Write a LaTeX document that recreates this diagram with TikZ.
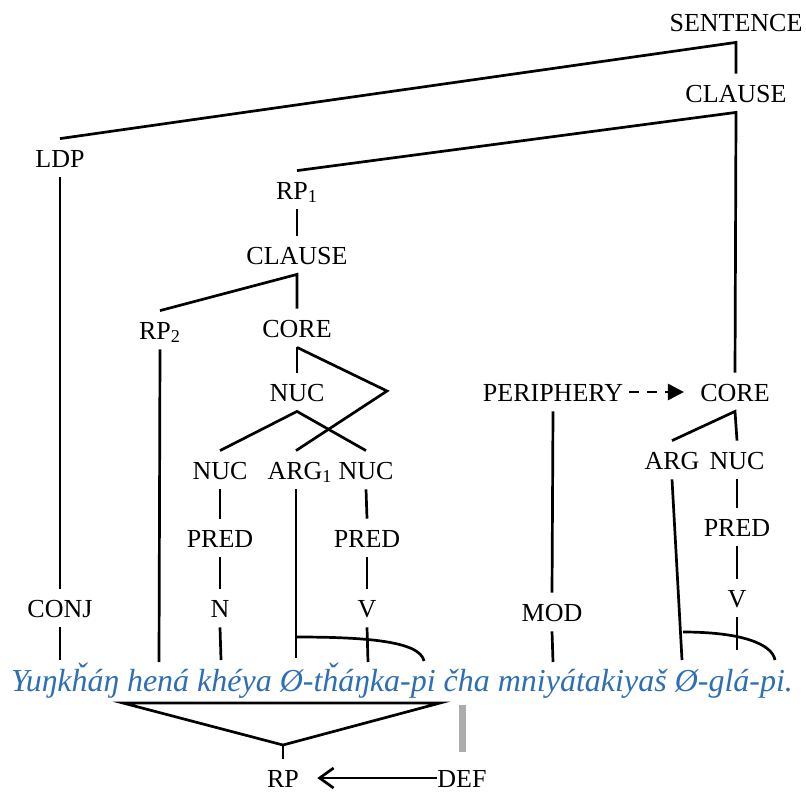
\documentclass[tikz,border=0pt]{standalone}
\usepackage{fontspec}
\setmainfont{Liberation Serif}
\usetikzlibrary{arrows.meta}

\definecolor{glossblue}{RGB}{46,110,180}

\tikzset{
  lbl/.style={inner sep=0pt, inner ysep=5pt, text height=9pt, text depth=0pt,
    font=\fontsize{13}{15}\selectfont},
  br/.style={line width=1.35pt},
}

\begin{document}
\begin{tikzpicture}[x=0.5pt, y=-0.5pt]
  \useasboundingbox (0,0) rectangle (806,792);

  % clause and sentence layer
  \node[lbl] (sent) at (736,23) {SENTENCE};
  \node[lbl] (clA) at (736,93) {CLAUSE};
  \node[lbl] (ldp) at (60,158) {LDP};
  \node[lbl] (conj) at (60,608) {CONJ};

  % relative clause
  \node[lbl] (rp1) at (297,190) {RP\textsubscript{1}};
  \node[lbl] (clB) at (297,255) {CLAUSE};
  \node[lbl] (rp2) at (160,330) {RP\textsubscript{2}};
  \node[lbl] (coreA) at (297,328) {CORE};
  \node[lbl] (nucA) at (297,392) {NUC};
  \node[lbl] (nucL) at (220,470) {NUC};
  \node[lbl] (arg1) at (300,470) {ARG\textsubscript{1}};
  \node[lbl] (nucR) at (366,470) {NUC};
  \node[lbl] (predL) at (220,538) {PRED};
  \node[lbl] (predR) at (367,538) {PRED};
  \node[lbl] (n) at (220,608) {N};
  \node[lbl] (vL) at (367,608) {V};
  \coordinate (bend) at (387,391);

  % main clause core
  \node[lbl] (peri) at (553,392) {PERIPHERY};
  \node[lbl] (coreB) at (735,392) {CORE};
  \node[lbl] (argB) at (672,460) {ARG};
  \node[lbl] (nucB) at (737,460) {NUC};
  \node[lbl] (predB) at (737,527) {PRED};
  \node[lbl] (vB) at (737,598) {V};
  \node[lbl] (mod) at (552,612) {MOD};

  % the sentence
  \node[font=\fontsize{16}{20}\selectfont\itshape, text=glossblue, anchor=base, inner sep=0pt]
    (sentence) at (402,691) {Yuŋkȟáŋ hená khéya Ø-tȟáŋka-pi čha mniyátakiyaš Ø-glá-pi.};
  \coordinate (w-yunk) at (60,660);
  \coordinate (w-hena) at (159,662);
  \coordinate (w-kheya) at (221,660);
  \coordinate (w-arg1) at (296,658);
  \coordinate (w-thank) at (368,662);
  \coordinate (w-pi1) at (424,661);
  \coordinate (w-mod) at (553,662);
  \coordinate (w-argB) at (682,660);
  \coordinate (w-gla) at (737,650);
  \coordinate (w-pi2) at (775,660);

  % lines of the tree
  \draw[br] (ldp.north) -- (sent.south) -- (clA.north);
  \draw[br] (rp1.north) -- (clA.south) -- (coreB.north);
  \draw[br] (ldp.south) -- (conj.north);
  \draw[br] (conj.south) -- (w-yunk);
  \draw[br] (rp1.south) -- (clB.north);
  \draw[br] (rp2.north) -- (clB.south) -- (coreA.north);
  \draw[br] (rp2.south) -- (w-hena);
  \draw[br] (coreA.south) -- (nucA.north);
  \draw[br] (coreA.south) -- (bend) -- (arg1.north -| w-arg1);
  \draw[br] (nucL.north) -- (nucA.south) -- (nucR.north);
  \draw[br] (nucL.south) -- (predL.north);
  \draw[br] (predL.south) -- (n.north);
  \draw[br] (n.south) -- (w-kheya);
  \draw[br] (arg1.south -| w-arg1) -- (w-arg1);
  \draw[br] (nucR.south) -- (predR.north);
  \draw[br] (predR.south) -- (vL.north);
  \draw[br] (vL.south) -- (w-thank);
  \draw[br] (296,637) .. controls (365,637) and (420,641) .. (w-pi1);

  \draw[br, dash pattern=on 5pt off 4pt, -{Triangle[length=8pt,width=8pt]}]
    ([xshift=3pt]peri.east) -- ([xshift=-8pt]coreB.west);
  \draw[br] (peri.south) -- (mod.north);
  \draw[br] (mod.south) -- (w-mod);
  \draw[br] (argB.north) -- (coreB.south) -- (nucB.north);
  \draw[br] (argB.south) -- (w-argB);
  \draw[br] (nucB.south) -- (predB.north);
  \draw[br] (predB.south) -- (vB.north);
  \draw[br] (vB.south) -- (w-gla);
  \draw[br] (683,632) .. controls (742,632) and (772,644) .. (w-pi2);

  % reference phrase under the sentence
  \coordinate (tl) at (123,703);
  \coordinate (tr) at (440,703);
  \coordinate (apex) at (283,745);
  \node[lbl] (rp) at (283,778) {RP};
  \node[lbl] (def) at (462,778) {DEF};
  \draw[br] (tl) -- (tr) -- (apex) -- cycle;
  \draw[br] (apex) -- (rp.north);
  \fill[gray!65] (459,705) rectangle (466,752);
  \draw[br, -{Straight Barb[length=7pt,width=10pt]}] (def.west) -- ([xshift=9pt]rp.east);
\end{tikzpicture}
\end{document}
